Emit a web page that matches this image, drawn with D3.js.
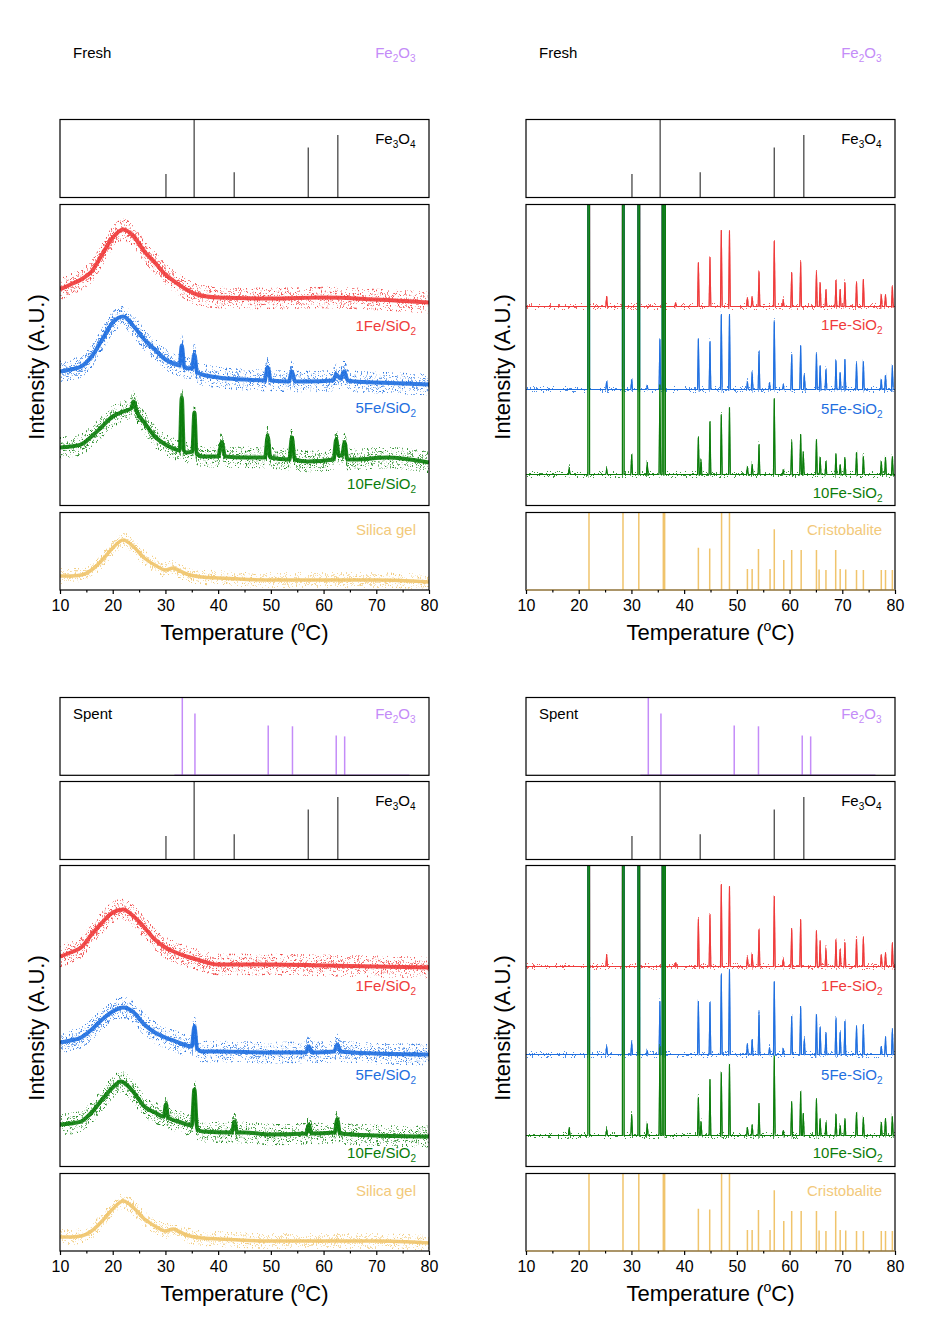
<!DOCTYPE html>
<html><head><meta charset="utf-8">
<script src="https://cdn.jsdelivr.net/npm/d3@7"></script>
<style>body{margin:0;background:#fff} text{font-family:"Liberation Sans",Arial,sans-serif}</style>
</head><body><svg id="c" width="948" height="1332"></svg>
<script>
// ---------------- DATA ----------------
const tickLabels = [10,20,30,40,50,60,70,80];
const minorTicks = [15,25,35,45,55,65,75];
const sampleNamesLeft = ["1Fe/SiO", "5Fe/SiO", "10Fe/SiO"];
const sampleNamesRight = ["1Fe-SiO", "5Fe-SiO", "10Fe-SiO"];
// reference sticks [2theta, relative height]
const fe3o4Peaks = [[30.1,0.30],[35.45,1.0],[43.05,0.325],[57.1,0.64],[62.7,0.80]];
const fe2o3Peaks = [[33.2,1.0],[35.6,0.795],[49.5,0.64],[54.1,0.63],[62.4,0.51],[64.0,0.50]];
const fe2o3Range = [31.7,76.3];
const cristobalitePeaks = [[21.95,1],[28.4,1],[31.4,1],[36.05,1],[36.3,1],[42.7,0.545],[44.85,0.536],[47.1,1],[48.6,1],[52.0,0.27],[52.9,0.27],[54.1,0.53],[56.3,0.27],[57.1,0.785],[58.9,0.386],[60.4,0.515],[62.2,0.515],[65.1,0.515],[65.6,0.266],[66.9,0.258],[68.75,0.515],[69.6,0.27],[70.65,0.266],[72.7,0.258],[74.0,0.258],[77.4,0.258],[78.2,0.258],[79.5,0.258]];
// silica gel pattern [2theta, intensity]
const silicaGel = [[10,14],[12,14],[14,15],[16,20],[18,30],[20,42],[22,50],[24,43],[26,32],[28,25],[30,20],[31.5,22],[32,21],[34,16],[37,13],[40,12],[50,10],[60,10],[70,10],[80,8]];
// fresh amorphous samples (offset intensities)
const fresh1FeSiO2 = [[10,216],[12,221],[14,226],[16,234],[18,251],[20,268],[22,276],[24,269],[26,254],[28,243],[30,231],[32,223],[34,216],[36,211],[40,208],[50,207],[60,208],[70,206],[80,203]];
const fresh5FeSiO2 = [[10,134],[12,136],[14,139],[16,149],[18,166],[20,183],[22,189],[24,179],[26,166],[28,156],[30,146],[32,141],[32.7,140],[33.1,160],[33.6,138],[35.0,137],[35.5,151],[36.0,133],[37,131],[40,128],[45,126],[48.8,125],[49.4,138],[50.0,125],[53.4,124],[54,134],[54.6,124],[57,124],[61.8,125],[62.4,131],[63.2,127],[63.9,134],[64.6,125],[66,124],[70,123],[80,121]];
const fresh10FeSiO2 = [[10,58],[12,59],[14,61],[16,69],[18,79],[20,89],[22,94],[23.5,97],[24,104],[24.5,95],[26,83],[28,69],[30,61],[32,56],[32.7,55],[33.1,108],[33.5,55],[34,53],[35.1,54],[35.5,93],[35.9,52],[37,49],[40,49],[40.7,63],[41.3,49],[45,48],[48.9,48],[49.4,69],[49.9,48],[53.5,46],[54,68],[54.5,46],[57,44],[61.9,46],[62.4,66],[62.9,50],[63.5,50],[64,63],[64.5,46],[66,46],[72,48],[80,43]];
// spent amorphous samples
const spent1FeSiO2 = [[10,210],[12,214],[14,219],[16,232],[18,244],[20,254],[22,257],[24,250],[26,239],[28,227],[30,219],[32,214],[34,210],[36,207],[40,202],[50,202],[60,201],[70,200],[80,199]];
const spent5FeSiO2 = [[10,124],[12,126],[14,129],[16,137],[18,147],[20,155],[22,159],[24,154],[26,142],[28,134],[30,129],[32,125],[34,121],[35.0,120],[35.5,140],[36.0,118],[37,115],[40,115],[50,114],[56.6,114],[57.2,120],[57.8,114],[62.0,115],[62.6,122],[63.2,115],[70,113],[80,112]];
const spent10FeSiO2 = [[10,42],[12,43],[14,45],[16,54],[18,67],[20,79],[21.5,85],[23,80],[24,74],[26,60],[28,54],[29.7,50],[30.1,62],[30.5,49],[33,44],[35.0,41],[35.5,77],[36.0,38],[37,35],[42.6,34],[43.1,45],[43.6,34],[45,34],[50,32],[56.7,33],[57.2,42],[57.7,33],[62.1,34],[62.6,47],[63.1,33],[70,31],[80,30]];
// crystalline samples: baseline + peaks [2theta, top intensity]
const freshCr1Base = 199;
const freshCr1Peaks = [[21.9,3000],[25.3,209],[28.45,3000],[31.4,3000],[36.0,3000],[36.3,3000],[38.4,203],[42.7,243],[44.9,248],[47.05,275],[48.6,274],[52.0,208],[52.9,209],[54.2,234],[57.1,264],[58.8,206],[60.4,233],[62.1,243],[65.1,233],[65.8,223],[66.9,216],[68.8,225],[69.6,216],[70.5,223],[72.7,223],[74.0,226],[77.4,211],[78.2,211],[79.5,219]];
const freshCr5Base = 116;
const freshCr5Peaks = [[21.9,3000],[25.3,124],[28.45,3000],[30.05,126],[31.4,3000],[33.0,120],[35.4,166],[36.0,3000],[36.3,3000],[42.7,166],[44.9,164],[47.05,191],[48.6,191],[52.0,124],[52.9,133],[54.2,154],[56.2,123],[57.1,184],[58.8,121],[60.4,151],[62.1,160],[62.8,131],[65.1,151],[65.8,140],[66.9,136],[68.8,145],[69.6,133],[70.5,146],[72.7,142],[74.0,144],[77.4,126],[78.2,130],[79.5,139]];
const freshCr10Base = 31;
const freshCr10Peaks = [[18.2,38],[21.9,3000],[25.3,37],[28.45,3000],[30.05,51],[31.4,3000],[33.0,43],[35.4,120],[36.0,3000],[36.3,3000],[42.7,68],[43.2,46],[44.9,84],[47.05,91],[48.6,98],[52.0,39],[52.9,41],[54.2,61],[57.1,107],[58.8,36],[60.4,63],[62.1,71],[62.6,53],[65.1,66],[65.8,48],[66.9,44],[68.8,51],[69.6,41],[70.5,48],[72.7,53],[74.0,49],[77.4,44],[78.2,48],[79.5,49]];
const spentCr1Base = 200;
const spentCr1Peaks = [[21.9,3000],[25.3,212],[28.45,3000],[31.4,3000],[36.0,3000],[36.3,3000],[38.4,204],[42.7,247],[44.9,252],[47.05,282],[48.6,280],[52.0,209],[52.9,212],[54.2,237],[57.1,270],[58.8,207],[60.4,238],[62.1,247],[65.1,235],[65.8,225],[66.9,218],[68.8,227],[69.6,217],[70.5,224],[72.7,227],[74.0,229],[77.4,212],[78.2,214],[79.5,223]];
const spentCr5Base = 112;
const spentCr5Peaks = [[21.9,3000],[25.3,120],[28.45,3000],[30.05,124],[31.4,3000],[33.0,116],[35.4,165],[36.0,3000],[36.3,3000],[42.7,165],[44.9,164],[47.05,192],[48.6,197],[52.0,122],[52.9,127],[54.2,154],[56.2,119],[57.1,185],[58.8,118],[60.4,150],[62.1,160],[62.8,127],[65.1,152],[65.8,139],[66.9,134],[68.8,148],[69.6,134],[70.5,145],[72.7,140],[74.0,142],[77.4,120],[78.2,129],[79.5,137]];
const spentCr10Base = 31;
const spentCr10Peaks = [[18.2,39],[21.9,3000],[25.3,37],[28.45,3000],[30.05,52],[31.4,3000],[33.0,42],[35.4,120],[36.0,3000],[36.3,3000],[42.7,69],[43.2,45],[44.9,87],[47.05,94],[48.6,102],[52.0,39],[52.9,41],[54.2,63],[57.1,110],[58.8,36],[60.4,65],[62.1,75],[62.6,53],[65.1,67],[65.8,48],[66.9,44],[68.8,52],[69.6,41],[70.5,48],[72.7,54],[74.0,49],[77.4,44],[78.2,48],[79.5,50]];

// ---------------- STYLE / LAYOUT ----------------
const C = {red:"#ef3b3b", blue:"#1f6fe0", green:"#0b7d0b", purple:"#c48cf8", gold:"#f0c46c", goldText:"#f2c97a", stick:"#555"};
const colX = [60, 526], W = 369;
const rows = [
  {name:"Fresh", textBase:58, fe2o3:null, fe3o4:[119.5,197.5], main:[204.5,505.5], ref:[512.5,590],
   labL:[126.5,208.8,284.8], labR:[125.5,209.8,293.2],
   amorph:[fresh1FeSiO2,fresh5FeSiO2,fresh10FeSiO2],
   cryst:[[freshCr1Base,freshCr1Peaks],[freshCr5Base,freshCr5Peaks],[freshCr10Base,freshCr10Peaks]]},
  {name:"Spent", textBase:718.5, fe2o3:[697.5,775.3], fe3o4:[781.5,859.5], main:[865.5,1166.5], ref:[1173.5,1251],
   labL:[125.2,214.5,292.8], labR:[125.5,214.5,292.2],
   amorph:[spent1FeSiO2,spent5FeSiO2,spent10FeSiO2],
   cryst:[[spentCr1Base,spentCr1Peaks],[spentCr5Base,spentCr5Peaks],[spentCr10Base,spentCr10Peaks]]}
];
const sColors = [C.red, C.blue, C.green];

const svg = d3.select("#c");
const defs = svg.append("defs");
// texture filter: vertical jitter (purely visual, not data)
function mkFilter(id, freq, scale, seed, k){
  const f = defs.append("filter").attr("id",id).attr("filterUnits","userSpaceOnUse")
    .attr("x",0).attr("y",0).attr("width",948).attr("height",1332).attr("color-interpolation-filters","sRGB");
  f.append("feTurbulence").attr("type","fractalNoise").attr("baseFrequency",freq).attr("numOctaves",2).attr("seed",seed).attr("result","t");
  f.append("feColorMatrix").attr("in","t").attr("type","matrix")
    .attr("values",`0 0 0 0 0.5  0 ${k} 0 0 ${0.5-0.5*k}  0 0 0 0 0  0 0 0 0 1`).attr("result","m");
  f.append("feDisplacementMap").attr("in","SourceGraphic").attr("in2","m").attr("scale",scale)
    .attr("xChannelSelector","R").attr("yChannelSelector","G");
}
mkFilter("noiseL","0.8 0.3",20,7,3);
mkFilter("noiseL2","0.8 0.3",20,23,3);
mkFilter("noiseL3","0.8 0.3",12,41,3);
mkFilter("noiseS","0.8 0.3",14,11,3);
mkFilter("noiseS2","0.8 0.3",10,31,3);
mkFilter("noiseR","0.9 0.3",6,7,2.5);

let clipN = 0;
function clipRect(x,y,w,h){
  const id = "cp"+(clipN++);
  defs.append("clipPath").attr("id",id).append("rect").attr("x",x).attr("y",y).attr("width",w).attr("height",h);
  return "url(#"+id+")";
}
function frame(x0,y0,y1){
  svg.append("rect").attr("x",x0).attr("y",y0).attr("width",W).attr("height",y1-y0)
    .attr("fill","none").attr("stroke","#000").attr("stroke-width",1.2);
}
function formula(parent,x,y,a,n1,b,n2,color){
  const s=15, t = parent.append("text").attr("x",x).attr("y",y).attr("fill",color).attr("font-size",s).attr("text-anchor","end");
  t.append("tspan").text(a);
  t.append("tspan").attr("font-size",10).attr("dy",4).text(n1);
  t.append("tspan").attr("dy",-4).text(b);
  t.append("tspan").attr("font-size",10).attr("dy",4).text(n2);
}
function crystPoints(base, peaks, hw){
  const pts = [[10,base]];
  peaks.forEach(([t,v])=>{ pts.push([t-hw,base],[t,v],[t+hw,base]); });
  pts.push([80,base]);
  return pts.sort((a,b)=>a[0]-b[0]);
}
function noisyCurve(g, d, color, core, spike, filters){
  g.append("path").attr("d",d).attr("fill","none").attr("stroke",color).attr("stroke-width",core)
    .attr("stroke-linejoin","round").attr("opacity",0.9);
  filters.forEach((f,i)=>{
    g.append("g").attr("filter",`url(#${f})`).append("path").attr("d",d).attr("fill","none")
      .attr("stroke",color).attr("stroke-width",spike).attr("stroke-linejoin","round").attr("opacity",i===0?0.85:0.65);
  });
}

rows.forEach((row,ri)=>{
  colX.forEach((x0,ci)=>{
    const x = d3.scaleLinear().domain([10,80]).range([x0,x0+W]);
    const right = x0+W-13.5;
    svg.append("text").attr("x",x0+13).attr("y",row.textBase).attr("font-size",15).attr("fill","#000").text(row.name);
    formula(svg,right,row.textBase,"Fe","2","O","3",C.purple);
    if (row.fe2o3){
      const [t0,t1] = row.fe2o3;
      const y = d3.scaleLinear().domain([0,1]).range([t1,t0]);
      const g = svg.append("g");
      g.append("line").attr("x1",x(fe2o3Range[0])).attr("x2",x(fe2o3Range[1])).attr("y1",y(0)).attr("y2",y(0))
        .attr("stroke",C.purple).attr("stroke-width",1.5);
      g.selectAll("line.s").data(fe2o3Peaks).join("line").attr("class","s")
        .attr("x1",d=>x(d[0])).attr("x2",d=>x(d[0])).attr("y1",y(0)).attr("y2",d=>y(d[1]))
        .attr("stroke",C.purple).attr("stroke-width",1.5);
      frame(x0,t0,t1);
    }
    {
      const [t0,t1] = row.fe3o4;
      const y = d3.scaleLinear().domain([0,1]).range([t1,t0]);
      svg.append("g").selectAll("line").data(fe3o4Peaks).join("line")
        .attr("x1",d=>x(d[0])).attr("x2",d=>x(d[0])).attr("y1",y(0)).attr("y2",d=>y(d[1]))
        .attr("stroke",C.stick).attr("stroke-width",1.4);
      frame(x0,t0,t1);
      formula(svg,right,t0+24,"Fe","3","O","4","#000");
    }
    {
      const [t0,t1] = row.main;
      const y = d3.scaleLinear().domain([0,t1-t0]).range([t1,t0]);
      const gc = svg.append("g").attr("clip-path",clipRect(x0,t0,W,t1-t0));
      if (ci===0){
        const line = d3.line().x(d=>x(d[0])).y(d=>y(d[1])).curve(d3.curveMonotoneX);
        row.amorph.forEach((s,i)=>{ noisyCurve(gc.append("g"), line(s), sColors[i], 4, 1.5, ["noiseL","noiseL2","noiseL3"]); });
      } else {
        const line = d3.line().x(d=>x(d[0])).y(d=>y(d[1]));
        row.cryst.forEach(([b,p],i)=>{
          const d = line(crystPoints(b,p,0.16));
          gc.append("path").attr("d",d).attr("fill","none").attr("stroke",sColors[i])
            .attr("stroke-width",1.1).attr("stroke-linejoin","round");
          gc.append("g").attr("filter","url(#noiseR)").append("path").attr("d",d).attr("fill","none").attr("stroke",sColors[i])
            .attr("stroke-width",1.1).attr("stroke-linejoin","round").attr("opacity",0.8);
        });
      }
      frame(x0,t0,t1);
      const names = ci===0 ? sampleNamesLeft : sampleNamesRight;
      const labs = ci===0 ? row.labL : row.labR;
      names.forEach((n,i)=>{
        const t = svg.append("text").attr("x", ci===0 ? x0+W-13 : x0+W-12.5).attr("y",t0+labs[i])
          .attr("font-size",15).attr("fill",sColors[i]).attr("text-anchor","end");
        t.append("tspan").text(n);
        t.append("tspan").attr("font-size",10).attr("dy",4).text("2");
      });
      svg.append("text").attr("transform",`translate(${x0-16},${(t0+t1)/2+12}) rotate(-90)`)
        .attr("text-anchor","middle").attr("font-size",22).attr("fill","#000").text("Intensity (A.U.)");
    }
    {
      const [t0,t1] = row.ref;
      const gc = svg.append("g").attr("clip-path",clipRect(x0,t0,W,t1-t0+1));
      if (ci===0){
        const y = d3.scaleLinear().domain([0,t1-t0]).range([t1,t0]);
        const line = d3.line().x(d=>x(d[0])).y(d=>y(d[1])).curve(d3.curveMonotoneX);
        noisyCurve(gc.append("g"), line(silicaGel), C.gold, 3.5, 1.5, ["noiseS","noiseS2"]);
      } else {
        const y = d3.scaleLinear().domain([0,1]).range([t1,t0]);
        gc.selectAll("line.s").data(cristobalitePeaks).join("line").attr("class","s")
          .attr("x1",d=>x(d[0])).attr("x2",d=>x(d[0])).attr("y1",y(0)).attr("y2",d=>y(d[1]))
          .attr("stroke",C.gold).attr("stroke-width",1.5);
      }
      frame(x0,t0,t1);
      if (ci===1){
        svg.append("line").attr("x1",x0).attr("x2",x0+W).attr("y1",t1).attr("y2",t1)
          .attr("stroke",C.gold).attr("stroke-width",1.2);
      }
      svg.append("text").attr("x",x0+W-13).attr("y",t0+22.5).attr("font-size",15).attr("fill",C.goldText)
        .attr("text-anchor","end").text(ci===0 ? "Silica gel" : "Cristobalite");
      const ax = svg.append("g").attr("transform",`translate(0,${t1})`)
        .call(d3.axisBottom(x).tickValues(tickLabels).tickSize(4).tickPadding(6).tickSizeOuter(0));
      ax.select(".domain").remove();
      ax.selectAll("text").attr("font-size",16).attr("font-family",'"Liberation Sans",Arial,sans-serif').attr("fill","#000");
      ax.selectAll("line").attr("stroke","#000").attr("stroke-width",1.2);
      const mx = svg.append("g").attr("transform",`translate(0,${t1})`)
        .call(d3.axisBottom(x).tickValues(minorTicks).tickSize(2.5).tickFormat("").tickSizeOuter(0));
      mx.select(".domain").remove();
      mx.selectAll("line").attr("stroke","#000").attr("stroke-width",1.2);
      const tt = svg.append("text").attr("x",x0+W/2).attr("y",t1+50).attr("text-anchor","middle")
        .attr("font-size",22).attr("fill","#000");
      tt.append("tspan").text("Temperature (");
      tt.append("tspan").attr("font-size",14).attr("dy",-9).text("o");
      tt.append("tspan").attr("dy",9).text("C)");
    }
  });
});
</script></body></html>
